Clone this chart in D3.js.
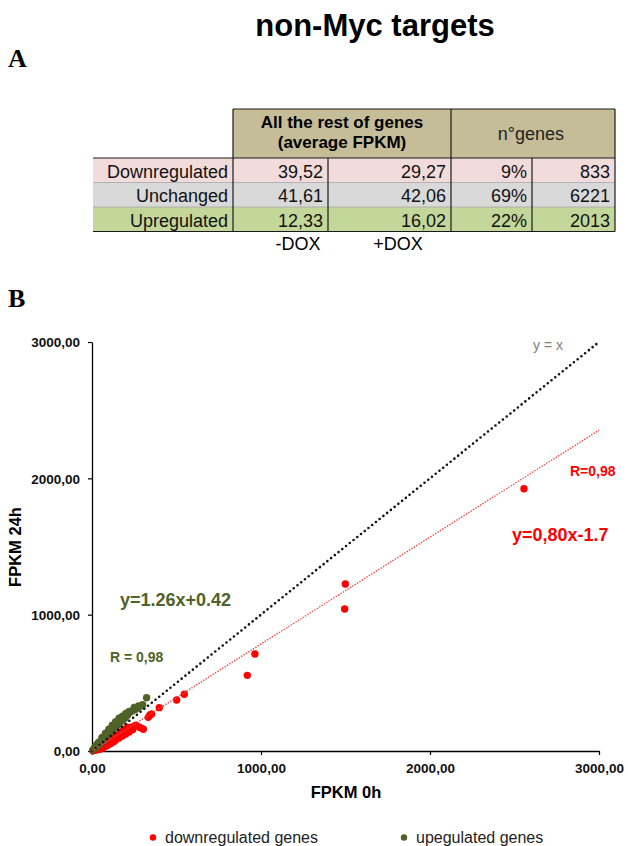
<!DOCTYPE html>
<html>
<head>
<meta charset="utf-8">
<script src="https://cdn.jsdelivr.net/npm/d3@7"></script>
<style>
  html, body { margin: 0; padding: 0; background: #ffffff; }
  svg { display: block; }
</style>
</head>
<body>
<script>
// ---------------- DATA ----------------
const rowLabels = ["Downregulated", "Unchanged", "Upregulated"];
const fpkmMinusDox = ["39,52", "41,61", "12,33"];
const fpkmPlusDox = ["29,27", "42,06", "16,02"];
const genePercent = ["9%", "69%", "22%"];
const geneCount = ["833", "6221", "2013"];
const headerFpkm = ["All the rest of genes", "(average FPKM)"];
const headerGenes = "n°genes";
const doxLabels = ["-DOX", "+DOX"];

// scatter: FPKM 0h (x) vs FPKM 24h (y)
const downX = [5,10,15,20,25,30,35,40,45,50,55,60,65,70,75,80,85,90,95,100,105,110,115,120,125,130,140,150,160,170,180,190,200,215,230,245,260,280,304,294,333,343,353,398,501,546,919,964,1495,1499,2556,50,70,90,110,130,60,150,
  20,30,40,60,80,100,120,140,160,180,200,220,240,40,60,100,140,170,190,210];
const downY = [2,5,9,12,16,20,24,28,30,34,38,42,46,50,55,58,60,64,70,72,76,80,85,90,92,98,105,110,118,125,135,140,150,160,170,180,190,174,159,166,247,264,271,318,374,416,555,712,1042,1225,1924,15,30,40,55,70,20,95,
  5,10,15,25,35,50,65,80,95,110,125,140,155,35,50,85,115,140,160,175];
const upX = [5,10,15,20,25,30,35,40,45,50,55,60,65,70,75,80,85,90,95,100,105,110,115,120,125,130,140,150,160,170,180,195,210,225,240,255,270,290,323,60,80,100,120,140,30,165,
  20,40,60,80,100,120,140,160,180,200,220,250,275,300,30,50,70];
const upY = [8,14,20,27,30,40,45,52,58,66,70,78,82,90,97,104,110,116,122,128,135,141,146,155,160,168,178,190,205,215,228,240,262,285,295,305,315,330,391,95,125,150,170,200,50,235,
  35,65,100,130,160,190,215,240,255,275,290,320,330,340,35,55,75];

const xTicks = [0, 1000, 2000, 3000];
const yTicks = [0, 1000, 2000, 3000];
const identityLine = {slope: 1, intercept: 0};
const downTrend = {slope: 0.785, intercept: -1.7};
const legendLabels = ["downregulated genes", "upegulated genes"];
const annotations = {
  identity: "y = x",
  downEq: "y=0,80x-1.7", downR: "R=0,98",
  upEq: "y=1.26x+0.42", upR: "R = 0,98"
};

// ---------------- DRAW ----------------
const W = 628, H = 846;
const RED = "#ff0000", GREEN = "#4f6228";
const sans = "'Liberation Sans', Arial, sans-serif";
const serif = "'Liberation Serif', 'Times New Roman', serif";

const svg = d3.select("body").append("svg").attr("width", W).attr("height", H);

// Title and panel letters
svg.append("text").attr("x", 375).attr("y", 36).attr("text-anchor", "middle")
  .attr("font-family", sans).attr("font-weight", "bold").attr("font-size", 31)
  .attr("fill", "#000").text("non-Myc targets");
svg.append("text").attr("x", 8).attr("y", 67)
  .attr("font-family", serif).attr("font-weight", "bold").attr("font-size", 26).text("A");
svg.append("text").attr("x", 8).attr("y", 307)
  .attr("font-family", serif).attr("font-weight", "bold").attr("font-size", 26).text("B");

// ---------------- TABLE ----------------
const tbl = svg.append("g");
const colEdges = [93, 233, 328, 451, 532, 615];
const headTop = 109, headBot = 158, rowH = 24.5;
const rowColors = ["#f2dcdb", "#d9d9d9", "#c4d79b"];
const fs = 18;

tbl.append("rect").attr("x", 233).attr("y", headTop).attr("width", 615 - 233).attr("height", headBot - headTop)
  .attr("fill", "#c4bd97");
rowLabels.forEach((lab, i) => {
  const y0 = headBot + i * rowH;
  tbl.append("rect").attr("x", colEdges[0]).attr("y", y0).attr("width", colEdges[5] - colEdges[0])
    .attr("height", rowH).attr("fill", rowColors[i]);
});
[1, 2].forEach(i => {
  tbl.append("line").attr("x1", colEdges[0]).attr("x2", colEdges[5])
    .attr("y1", headBot + i * rowH).attr("y2", headBot + i * rowH)
    .attr("stroke", "#a6a6a6").attr("stroke-width", 0.8);
});
const tableBot = headBot + 3 * rowH;
const lines = [
  [233, headTop, 615, headTop],
  [93, headBot, 615, headBot],
  [93, tableBot, 615, tableBot],
  [233, headTop, 233, tableBot],
  [451, headTop, 451, tableBot],
  [615, headTop, 615, tableBot],
  [328, headBot, 328, tableBot],
  [532, headBot, 532, tableBot]
];
lines.forEach(l => tbl.append("line").attr("x1", l[0]).attr("y1", l[1]).attr("x2", l[2]).attr("y2", l[3])
  .attr("stroke", "#1a1a1a").attr("stroke-width", 1.2));

tbl.append("text").attr("x", 342).attr("y", 128).attr("text-anchor", "middle")
  .attr("font-family", sans).attr("font-weight", "bold").attr("font-size", 17).text(headerFpkm[0]);
tbl.append("text").attr("x", 342).attr("y", 148).attr("text-anchor", "middle")
  .attr("font-family", sans).attr("font-weight", "bold").attr("font-size", 17).text(headerFpkm[1]);
tbl.append("text").attr("x", 531).attr("y", 140).attr("text-anchor", "middle")
  .attr("font-family", sans).attr("font-size", fs).attr("fill", "#222").text(headerGenes);

const cols = [rowLabels, fpkmMinusDox, fpkmPlusDox, genePercent, geneCount];
cols.forEach((col, c) => {
  col.forEach((v, i) => {
    tbl.append("text").attr("x", colEdges[c + 1] - 5).attr("y", headBot + i * rowH + 19.5)
      .attr("text-anchor", "end").attr("font-family", sans).attr("font-size", fs)
      .attr("fill", "#111").text(v);
  });
});
tbl.append("text").attr("x", 298).attr("y", 250).attr("text-anchor", "middle")
  .attr("font-family", sans).attr("font-size", fs).text(doxLabels[0]);
tbl.append("text").attr("x", 398).attr("y", 250).attr("text-anchor", "middle")
  .attr("font-family", sans).attr("font-size", fs).text(doxLabels[1]);

// ---------------- SCATTER ----------------
const x = d3.scaleLinear().domain([0, 3000]).range([92, 599]);
const y = d3.scaleLinear().domain([0, 3000]).range([751, 342]);
const loc = d3.formatLocale({decimal: ",", thousands: "", grouping: [3], currency: ["", ""]});
const fmt = loc.format(".2f");

const gx = svg.append("g").attr("transform", `translate(0,${y(0)})`)
  .call(d3.axisBottom(x).tickValues(xTicks).tickFormat(fmt).tickSizeInner(4).tickSizeOuter(0).tickPadding(8));
const gy = svg.append("g").attr("transform", `translate(${x(0)},0)`)
  .call(d3.axisLeft(y).tickValues(yTicks).tickFormat(fmt).tickSizeInner(4).tickSizeOuter(0).tickPadding(8));
[gx, gy].forEach(g => {
  g.select(".domain").attr("stroke", "#000").attr("stroke-width", 1.3);
  g.selectAll(".tick line").attr("stroke", "#000").attr("stroke-width", 1.2);
  g.selectAll(".tick text").attr("font-family", sans).attr("font-weight", "bold")
    .attr("font-size", 13.5).attr("fill", "#111");
});
gy.selectAll(".tick text").attr("dy", "0.35em");

svg.append("text").attr("x", 346).attr("y", 798).attr("text-anchor", "middle")
  .attr("font-family", sans).attr("font-weight", "bold").attr("font-size", 16.5).text("FPKM 0h");
svg.append("text").attr("transform", "translate(21,547) rotate(-90)").attr("text-anchor", "middle")
  .attr("font-family", sans).attr("font-weight", "bold").attr("font-size", 16.5).text("FPKM 24h");

// points
const plot = svg.append("g");
plot.selectAll("circle.down").data(downX.map((v, i) => [v, downY[i]])).enter()
  .append("circle").attr("class", "down").attr("cx", d => x(d[0])).attr("cy", d => y(d[1]))
  .attr("r", 3.7).attr("fill", RED);
plot.selectAll("circle.up").data(upX.map((v, i) => [v, upY[i]])).enter()
  .append("circle").attr("class", "up").attr("cx", d => x(d[0])).attr("cy", d => y(d[1]))
  .attr("r", 3.7).attr("fill", GREEN);

// trend lines
const lineGen = d3.line().x(d => x(d[0])).y(d => y(d[1]));
const ends = [0, 3000];
svg.append("path").datum(ends.map(v => [v, identityLine.slope * v + identityLine.intercept]))
  .attr("d", lineGen).attr("fill", "none").attr("stroke", "#111").attr("stroke-width", 2.6)
  .attr("stroke-linecap", "round").attr("stroke-dasharray", "0,4.8");
svg.append("path").datum(ends.map(v => [v, Math.max(0, downTrend.slope * v + downTrend.intercept)]))
  .attr("d", lineGen).attr("fill", "none").attr("stroke", "#ff4040").attr("stroke-width", 1.4)
  .attr("stroke-dasharray", "1.4,1.4");

// annotations
svg.append("text").attr("x", 533).attr("y", 350).attr("font-family", sans).attr("font-size", 14)
  .attr("fill", "#7f7f7f").text(annotations.identity);
svg.append("text").attr("x", 570).attr("y", 476).attr("font-family", sans).attr("font-weight", "bold")
  .attr("font-size", 14).attr("fill", RED).text(annotations.downR);
svg.append("text").attr("x", 512).attr("y", 541).attr("font-family", sans).attr("font-weight", "bold")
  .attr("font-size", 18).attr("fill", RED).text(annotations.downEq);
svg.append("text").attr("x", 120).attr("y", 606).attr("font-family", sans).attr("font-weight", "bold")
  .attr("font-size", 18).attr("fill", GREEN).text(annotations.upEq);
svg.append("text").attr("x", 110).attr("y", 662).attr("font-family", sans).attr("font-weight", "bold")
  .attr("font-size", 14).attr("fill", GREEN).text(annotations.upR);

// legend
const legend = svg.append("g");
const legendX = [153, 404];
const legendColors = [RED, GREEN];
legendLabels.forEach((lab, i) => {
  legend.append("circle").attr("cx", legendX[i]).attr("cy", 837.5).attr("r", 3.2).attr("fill", legendColors[i]);
  legend.append("text").attr("x", legendX[i] + 12).attr("y", 843).attr("font-family", sans)
    .attr("font-size", 16).attr("fill", "#222").text(lab);
});
</script>
</body>
</html>
